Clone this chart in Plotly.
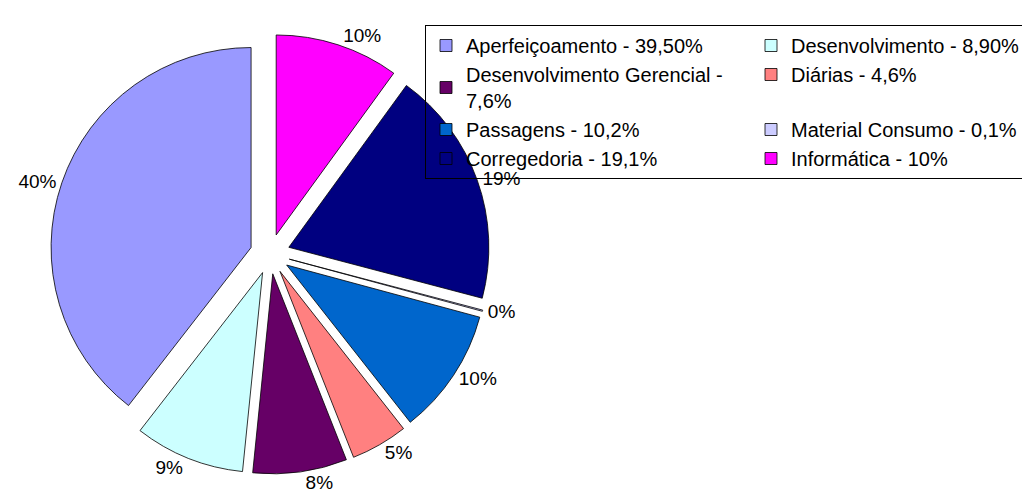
import plotly.graph_objects as go

labels = ["Aperfeiçoamento - 39,50%", "Desenvolvimento - 8,90%",
          "Desenvolvimento Gerencial -<br>7,6%", "Diárias - 4,6%",
          "Passagens - 10,2%", "Material Consumo - 0,1%",
          "Corregedoria - 19,1%", "Informática - 10%"]
values = [39.5, 8.9, 7.6, 4.6, 10.2, 0.1, 19.1, 10.0]
colors = ["#9999FF", "#CCFFFF", "#660066", "#FF8080",
          "#0066CC", "#CCCCFF", "#000080", "#FF00FF"]
pulls = [0.1, 0.1, 0.1, 0.1, 0.1, 0.1, 0.1, 0.1]

# Plotly's counterclockwise layout ends the first slice at 12 o'clock;
# rotate so the first slice starts at 12 o'clock instead.
rot = -360.0 * values[0] / sum(values)

W, H = 1030, 501
OFF = 8  # page body margin
R_MARGIN = 330
plot_w = W - R_MARGIN
cx, cy, half = 270 - OFF, 254 - OFF, 220

fig = go.Figure(go.Pie(
    labels=labels, values=values, sort=False, direction="counterclockwise",
    rotation=rot, pull=pulls,
    marker=dict(colors=colors, line=dict(color="black", width=0.8)),
    texttemplate="%{percent:.0%}", textposition="outside",
    textfont=dict(family="Liberation Sans, Arial", size=19, color="black"),
    hoverinfo="label+percent",
    domain=dict(x=[(cx - half) / plot_w, (cx + half) / plot_w],
                y=[(H - cy - half) / H, (H - cy + half) / H]),
))

fig.update_layout(
    width=W, height=H,
    margin=dict(l=0, r=R_MARGIN, t=0, b=0, autoexpand=False),
    paper_bgcolor="white",
    plot_bgcolor="white",
    font=dict(family="Liberation Sans, Arial", size=20, color="black"),
    legend=dict(
        orientation="h", x=(425 - OFF) / plot_w, y=1 - (25 - OFF) / H,
        xanchor="left", yanchor="top",
        bgcolor="rgba(255,255,255,0)", bordercolor="black", borderwidth=1,
        entrywidth=280, font=dict(size=20), itemwidth=30,
    ),
)

fig.write_html("out.html")
